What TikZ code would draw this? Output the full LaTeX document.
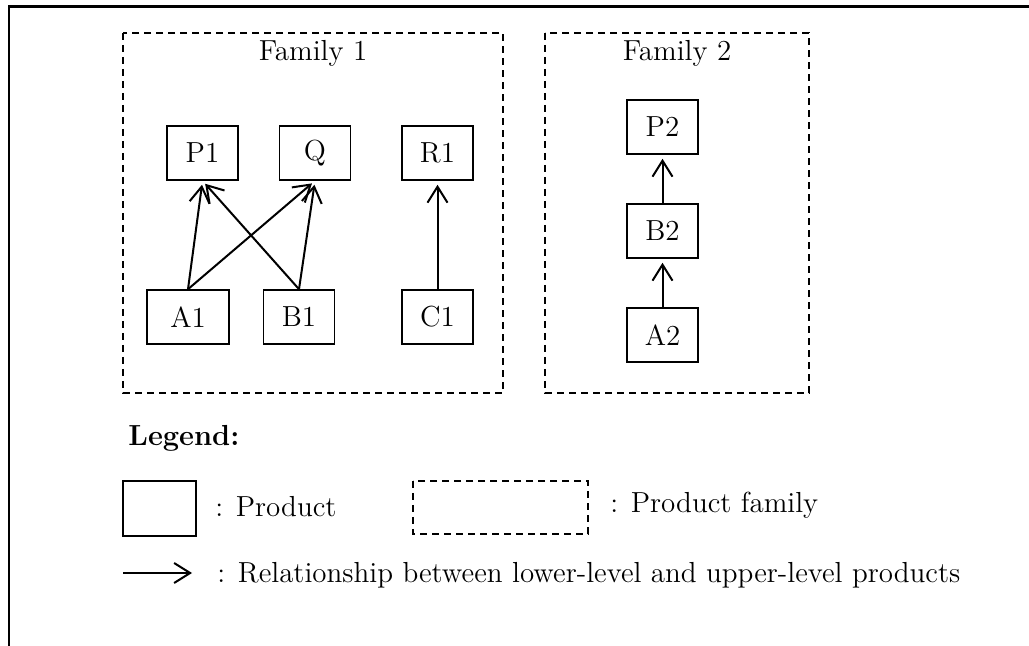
\documentclass[tikz,border=0pt]{standalone}
\usetikzlibrary{arrows.meta}

\begin{document}
\begin{tikzpicture}[x=0.5pt, y=-0.5pt, font=\fontsize{14.5}{17}\selectfont,
	product/.style={draw, line width=0.8pt, minimum width=35.5pt, minimum height=27pt, inner sep=0pt},
	familybox/.style={draw, line width=0.8pt, dash pattern=on 3.5pt off 2.5pt},
	relarrow/.style={-{Straight Barb[length=8pt, width=10pt]}, line width=1pt, shorten >=2pt}]

	\useasboundingbox (0,0) rectangle (1029,646);
	\draw[line width=1.2pt] (9,646) -- (9,6.5) -- (1029,6.5);

	\draw[familybox] (123,33) rectangle (503,393);
	\draw[familybox] (545,33) rectangle (809,393);
	\node (fam1) at (313,53) {Family 1};
	\node (fam2) at (677,53) {Family 2};

	\node[product] (P1) at (202.5,153) {P1};
	\node[product] (Q) at (315,153) {Q};
	\node[product] (R1) at (437.5,153) {R1};
	\node[product, minimum width=41pt] (A1) at (188,317) {A1};
	\node[product] (B1) at (299,317) {B1};
	\node[product] (C1) at (437.5,317) {C1};

	\node[product] (P2) at (662.5,127) {P2};
	\node[product] (B2) at (662.5,231) {B2};
	\node[product] (A2) at (662.5,335) {A2};

	\draw[relarrow] (A1.north) -- (P1.south);
	\draw[relarrow] (A1.north) -- (Q.south);
	\draw[relarrow] (B1.north) -- (P1.south);
	\draw[relarrow] (B1.north) -- (Q.south);
	\draw[relarrow] (C1.north) -- (R1.south);
	\draw[relarrow] (B2.north) -- (P2.south);
	\draw[relarrow] (A2.north) -- (B2.south);

	\node[anchor=west, inner sep=0pt, font=\fontsize{14.5}{17}\selectfont\bfseries] (legend) at (128,438) {Legend:};

	\node[product, minimum width=36.5pt, minimum height=27.5pt] (keyprod) at (159.5,508.5) {};
	\node[anchor=base west, inner sep=0pt] (keyprodtxt) at (215,517) {: Product};

	\draw[familybox] (413,481) rectangle (588,534);
	\node[anchor=base west, inner sep=0pt] (keyfamtxt) at (610,513) {: Product family};

	\coordinate (keyfrom) at (123,573);
	\coordinate (keyto) at (192,573);
	\draw[relarrow, shorten >=0pt] (keyfrom) -- (keyto);
	\node[anchor=base west, inner sep=0pt] (keyreltxt) at (217,583) {: Relationship between lower-level and upper-level products};

\end{tikzpicture}
\end{document}
